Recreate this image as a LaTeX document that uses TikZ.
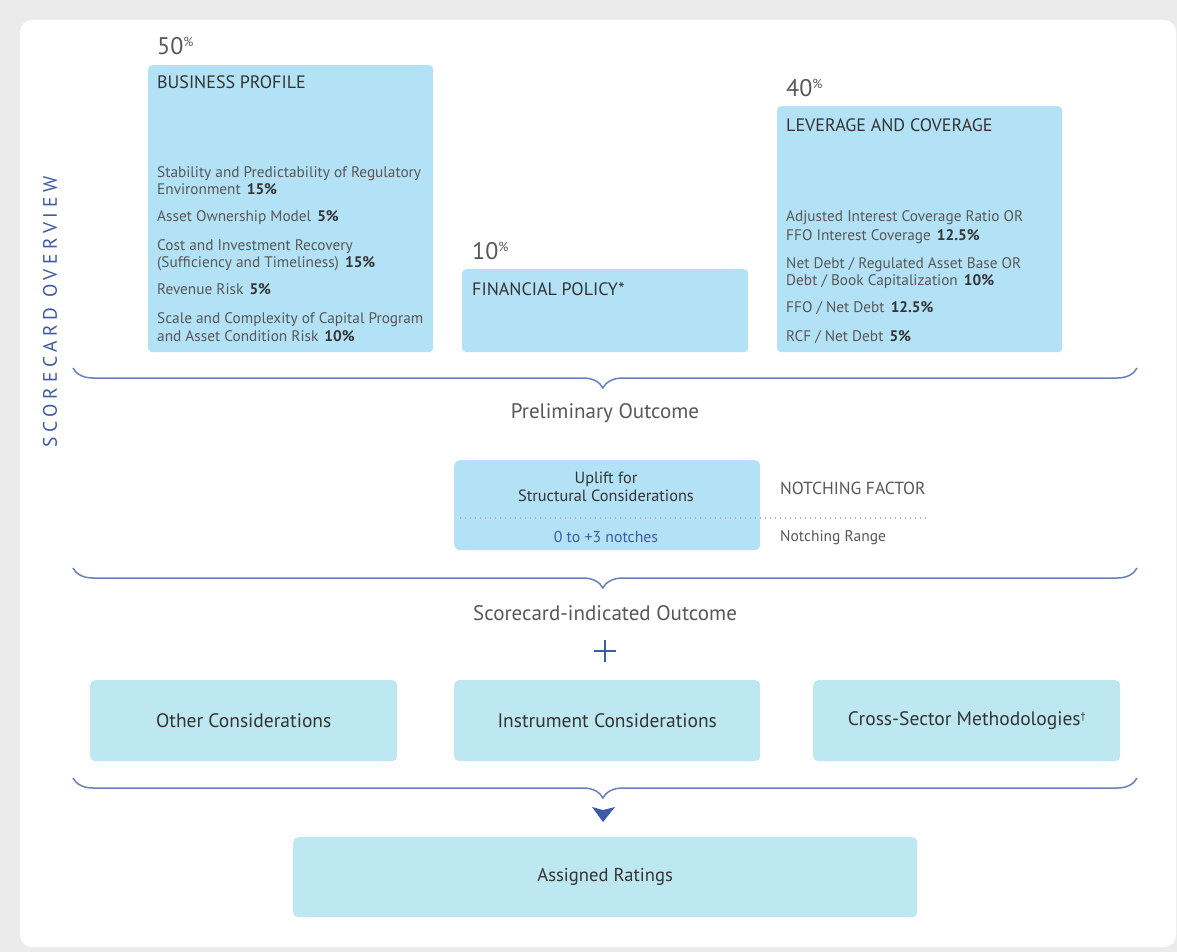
\documentclass[tikz,border=0pt]{standalone}
\usepackage{fontspec}
\setmainfont{PT Sans}
\newfontfamily\spacedfont[LetterSpace=24]{PT Sans}
\usetikzlibrary{decorations.pathreplacing}
\usetikzlibrary{positioning}
\usetikzlibrary{calc}

\definecolor{cardgrey}{RGB}{235,235,235}
\definecolor{factorblue}{RGB}{179,225,245}
\definecolor{otherblue}{RGB}{189,232,242}
\definecolor{bracecol}{RGB}{104,128,186}
\definecolor{deepblue}{RGB}{62,92,165}
\definecolor{bodytext}{RGB}{88,88,88}
\definecolor{headtext}{RGB}{52,52,52}

% weight superscript and factor share
\newcommand{\wpct}{\raisebox{8pt}{\fontsize{13}{13}\selectfont\%}}
\newcommand{\share}[1]{\hspace{0.4em}{\color{headtext}\bfseries #1\%}}

\begin{document}
\begin{tikzpicture}[x=1pt, y=-1pt,
    factorbox/.style={fill=factorblue, rounded corners=4pt, inner sep=0pt, anchor=north west},
    otherbox/.style={fill=otherblue, rounded corners=5pt, inner sep=0pt, anchor=north west},
    boxlabel/.style={text=headtext, inner sep=0pt, font=\fontsize{19.5}{22}\selectfont},
    weight/.style={text=bodytext, inner sep=0pt, anchor=base west, font=\fontsize{24}{27}\selectfont},
    boxtitle/.style={text=headtext, inner sep=0pt, anchor=base west, font=\fontsize{18}{21}\selectfont},
    itemtext/.style={text=bodytext, inner sep=0pt, anchor=base west, font=\fontsize{15.3}{18}\selectfont},
    outcome/.style={text=bodytext, inner sep=0pt, anchor=base, font=\fontsize{21}{24}\selectfont},
    notchtext/.style={text=bodytext, inner sep=0pt, anchor=base west, font=\fontsize{15.5}{18}\selectfont},
    scorebrace/.style={draw=bracecol, line width=1.5pt, decorate,
        decoration={brace, mirror, amplitude=20pt, aspect=0.498}},
]
    \useasboundingbox (0,0) rectangle (1177,952);

    % card background
    \fill[cardgrey] (0,0) rectangle (1177,952);
    \fill[white, rounded corners=12pt] (20,20) rectangle (1176,947);

    % side label
    \node[rotate=90, text=deepblue, inner sep=0pt, font=\fontsize{19.5}{22}\spacedfont] (overview) at (50,312) {SCORECARD OVERVIEW};

    % factor boxes
    \node[factorbox, minimum width=285pt, minimum height=287pt] (bizprofile) at (148,65) {};
    \node[factorbox, minimum width=286pt, minimum height=83pt] (finpolicy) at (462,269) {};
    \node[factorbox, minimum width=285pt, minimum height=246pt] (levcov) at (777,106) {};

    % weights
    \node[weight] (w50) at (157,55) {50\wpct};
    \node[weight] (w10) at (472,259) {10\wpct};
    \node[weight] (w40) at (786,97) {40\wpct};

    % box titles
    \node[boxtitle] (bptitle) at (157,89) {BUSINESS PROFILE};
    \node[boxtitle] (fptitle) at (472,295) {FINANCIAL POLICY*};
    \node[boxtitle] (lctitle) at (786,132) {LEVERAGE AND COVERAGE};

    % sub-factors
    \foreach \yy/\txt in {178/{Stability and Predictability of Regulatory},
                          195/{Environment\share{15}},
                          222/{Asset Ownership Model\share{5}},
                          250/{Cost and Investment Recovery},
                          267/{(Sufficiency and Timeliness)\share{15}},
                          294/{Revenue Risk\share{5}},
                          323/{Scale and Complexity of Capital Program},
                          341/{and Asset Condition Risk\share{10}}}
        \node[itemtext] (bp\yy) at (157,\yy) {\txt};
    \foreach \yy/\txt in {222/{Adjusted Interest Coverage Ratio OR},
                          240/{FFO Interest Coverage\share{12.5}},
                          268/{Net Debt / Regulated Asset Base OR},
                          285/{Debt / Book Capitalization\share{10}},
                          312/{FFO / Net Debt\share{12.5}},
                          341/{RCF / Net Debt\share{5}}}
        \node[itemtext] (lc\yy) at (786,\yy) {\txt};

    % first brace
    \coordinate (braceAl) at (73,368);
    \coordinate (braceAr) at (1137,368);
    \draw[scorebrace] (braceAl) -- (braceAr);
    \node[outcome] (prelim) at (605,418) {Preliminary Outcome};

    % notching
    \node[factorbox, minimum width=306pt, minimum height=90pt, rounded corners=6pt] (uplift) at (454,460) {};
    \node[text=headtext, inner sep=0pt, align=center, font=\fontsize{16.3}{18}\selectfont] (upliftname) at (606,487) {Uplift for\\Structural Considerations};
    \node[text=deepblue, inner sep=0pt, anchor=base, font=\fontsize{15.8}{18}\selectfont] (notches) at (606,542) {0 to +3 notches};
    \node[notchtext, font=\fontsize{17.5}{20}\selectfont] (notchfactor) at (780,494) {NOTCHING FACTOR};
    \node[notchtext] (notchrange) at (780,541) {Notching Range};
    \coordinate (dotL) at (460,518);
    \coordinate (dotR) at (928,518);
    \draw[gray!60, line width=1.2pt, dash pattern=on 1pt off 4pt] (dotL) -- (dotR);

    % second brace
    \coordinate (braceBl) at (73,568);
    \coordinate (braceBr) at (1137,568);
    \draw[scorebrace] (braceBl) -- (braceBr);
    \node[outcome] (scoreout) at (605,620) {Scorecard-indicated Outcome};

    % plus
    \coordinate (plus) at (605,651);
    \draw[deepblue, line width=2pt] ($(plus)+(-11,0)$) -- ($(plus)+(11,0)$);
    \draw[deepblue, line width=2pt] ($(plus)+(0,-11)$) -- ($(plus)+(0,11)$);

    % other considerations
    \node[otherbox, minimum width=307pt, minimum height=81pt] (otherc) at (90,680) {};
    \node[otherbox, minimum width=306pt, minimum height=81pt] (instrc) at (454,680) {};
    \node[otherbox, minimum width=307pt, minimum height=81pt] (crossm) at (813,680) {};
    \node[boxlabel] (othername) at (otherc.center) {Other Considerations};
    \node[boxlabel] (instrname) at (instrc.center) {Instrument Considerations};
    \node[boxlabel] (crossname) at (crossm.center) {Cross-Sector Methodologies\smash{\raisebox{6pt}{\fontsize{10}{10}\selectfont\textdagger}}};

    % third brace
    \coordinate (braceCl) at (73,778);
    \coordinate (braceCr) at (1137,778);
    \draw[scorebrace] (braceCl) -- (braceCr);
    \coordinate (arrowtip) at (603,822);
    \fill[deepblue] ($(arrowtip)+(-11,-15)$) -- ($(arrowtip)+(0,-12)$) -- ($(arrowtip)+(12,-15)$) -- (arrowtip) -- cycle;

    % result
    \node[otherbox, minimum width=624pt, minimum height=80pt] (assigned) at (293,837) {};
    \node[boxlabel, font=\fontsize{18.6}{21}\selectfont] (assignedname) at (assigned.center) {Assigned Ratings};
\end{tikzpicture}
\end{document}
